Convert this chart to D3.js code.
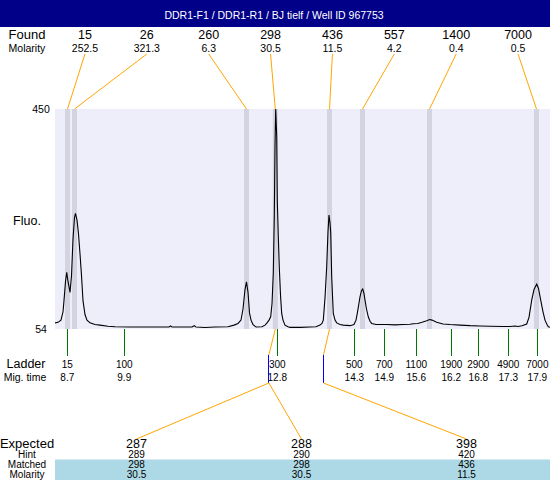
<!DOCTYPE html>
<html>
<head>
<meta charset="utf-8">
<script src="https://cdn.jsdelivr.net/npm/d3@7"></script>
<style>
  html, body { margin: 0; padding: 0; background: #fff; }
  svg { display: block; font-family: "Liberation Sans", Arial, sans-serif; }
</style>
</head>
<body>
<svg id="chart" width="550" height="480"></svg>
<script>
// ---------------- DATA ----------------
const title = "DDR1-F1 / DDR1-R1 / BJ tielf / Well ID 967753";

// Found peaks
const foundSizes    = ["15", "26", "260", "298", "436", "557", "1400", "7000"];
const foundMolarity = ["252.5", "321.3", "6.3", "30.5", "11.5", "4.2", "0.4", "0.5"];
const foundTimes    = [8.710, 8.847, 12.213, 12.777, 13.838, 14.484, 15.796, 17.890];

// Ladder
const ladderSizes  = [15, 100, 300, 500, 700, 1100, 1900, 2900, 4900, 7000];
const ladderTimes  = [8.706, 9.821, 12.816, 14.324, 14.911, 15.537, 16.222, 16.751, 17.338, 17.906];
const migTimeLabels = ["8.7", "9.9", "12.8", "14.3", "14.9", "15.6", "16.2", "16.8", "17.3", "17.9"];

// Expected table
const expected     = [287, 288, 398];
const hint         = [289, 290, 420];
const matched      = [298, 298, 436];
const matchedMol   = ["30.5", "30.5", "11.5"];

// Y axis
const yTicks = [54, 450];

// Electropherogram trace: migration time (s), fluorescence
const traceTime = [
  8.465, 8.524, 8.582, 8.622, 8.641, 8.671, 8.694, 8.719, 8.759, 8.788,
  8.817, 8.847, 8.866, 8.896, 8.925, 8.954, 8.984, 9.013, 9.052, 9.091,
  9.150, 9.248, 9.346, 9.502, 9.639, 9.933, 10.324, 10.696, 10.730, 10.755,
  11.147, 11.192, 11.225, 11.401, 11.597, 11.851, 11.969, 12.047, 12.106, 12.145,
  12.184, 12.213, 12.243, 12.272, 12.302, 12.341, 12.400, 12.517, 12.576, 12.615,
  12.654, 12.687, 12.713, 12.738, 12.758, 12.771, 12.785, 12.805, 12.816, 12.836,
  12.855, 12.879, 12.902, 12.928, 12.967, 13.026, 13.065, 13.261, 13.456, 13.574,
  13.652, 13.691, 13.717, 13.750, 13.783, 13.809, 13.828, 13.848, 13.862, 13.881,
  13.912, 13.946, 13.979, 14.043, 14.108, 14.239, 14.317, 14.357, 14.382, 14.409,
  14.435, 14.464, 14.488, 14.513, 14.533, 14.562, 14.597, 14.631, 14.664, 14.748,
  14.958, 15.120, 15.277, 15.414, 15.478, 15.570, 15.649, 15.741, 15.796, 15.845,
  15.936, 16.060, 16.197, 16.393, 16.589, 16.785, 16.980, 17.235, 17.372, 17.469,
  17.528, 17.606, 17.698, 17.743, 17.796, 17.841, 17.894, 17.929, 17.972, 18.017,
  18.056, 18.095, 18.121, 18.154
];
const traceFluo = [
  65, 66, 70, 85, 105, 140, 156, 140, 120, 150,
  215, 255, 262, 250, 225, 190, 150, 105, 80, 70,
  65, 62, 61, 59, 58, 57.5, 57.5, 57.5, 59.5, 57.5,
  57.5, 60, 57.5, 56.8, 57.5, 58, 61, 64, 70, 90,
  125, 139, 120, 83, 70, 62, 57.5, 58, 61, 65,
  70, 76, 100, 155, 260, 382, 450, 400, 286, 220,
  166, 115, 82, 70, 61, 58, 57, 57, 57.5, 58,
  61, 64, 70, 110, 166, 230, 259, 245, 227, 148,
  82, 70, 65, 62, 61, 60, 62, 70, 82, 97,
  112, 123, 126, 118, 106, 90, 76, 68, 64, 62,
  62, 61.5, 62, 62.5, 63.5, 64, 66, 69, 71, 70,
  66, 63, 62, 61, 60, 59.5, 59, 58.5, 58.5, 59.5,
  58.5, 60, 63, 75, 106, 125, 135, 127, 106, 85,
  70, 62, 58, 57
];

// ---------------- LAYOUT ----------------
const W = 550, H = 480;
const plot = { left: 55, right: 550, top: 109, bottom: 329 };
const slotLeft = 54, slotWidth = 495;

const svg = d3.select("#chart");
const x = d3.scaleLinear().domain([8.465, 18.154]).range([plot.left, plot.right]);
const y = d3.scaleLinear().domain([54, 450]).range([plot.bottom, plot.top]);
// size -> time, through the ladder (piecewise linear)
const sizeToTime = d3.scaleLinear().domain(ladderSizes).range(ladderTimes);

const foundSlot = d3.scaleBand().domain(d3.range(foundSizes.length)).range([slotLeft, slotLeft + slotWidth]);
const expSlot = d3.scaleBand().domain(d3.range(expected.length)).range([slotLeft, slotLeft + slotWidth]);

const ORANGE = "#FFA500", GREEN = "#007800", BLUE = "#0000FF";

// Header
svg.append("rect").attr("x", 0).attr("y", 0).attr("width", W).attr("height", 27).attr("fill", "#000088");
svg.append("text").attr("x", 274).attr("y", 18.5).attr("text-anchor", "middle")
  .attr("fill", "#fff").attr("font-size", 10.5).text(title);

// Left labels
function leftLabel(txt, yy, size, xx) {
  svg.append("text").attr("x", xx || 27).attr("y", yy).attr("text-anchor", "middle")
    .attr("font-size", size).attr("fill", "#000").text(txt);
}
leftLabel("Found", 39, 13);
leftLabel("Molarity", 51.5, 10.5);
leftLabel("Fluo.", 225, 12.5);
leftLabel("Ladder", 368, 12.5, 26);
leftLabel("Mig. time", 381, 10.5, 25);
leftLabel("Expected", 448, 13);
leftLabel("Hint", 458, 10);
leftLabel("Matched", 468, 10);
leftLabel("Molarity", 478, 10);

// Plot background
svg.append("rect").attr("x", plot.left).attr("y", plot.top)
  .attr("width", plot.right - plot.left).attr("height", plot.bottom - plot.top)
  .attr("fill", "#EEEEFB");

// Found bands
svg.append("g").selectAll("rect").data(foundTimes).join("rect")
  .attr("x", d => x(d) - 2.5).attr("y", plot.top).attr("width", 5)
  .attr("height", plot.bottom - plot.top).attr("fill", "#D3D3E1");

// Y labels
svg.append("g").selectAll("text").data(yTicks).join("text")
  .attr("x", 41).attr("y", d => y(d) + 3.8).attr("text-anchor", "middle")
  .attr("font-size", 10.5).text(d => d);

// Trace
svg.append("clipPath").attr("id", "clip").append("rect")
  .attr("x", plot.left).attr("y", plot.top - 1).attr("width", plot.right - plot.left).attr("height", plot.bottom - plot.top + 1);
const line = d3.line().x(d => x(d[0])).y(d => y(d[1]));
svg.append("path").datum(d3.zip(traceTime, traceFluo))
  .attr("clip-path", "url(#clip)")
  .attr("d", line).attr("fill", "none").attr("stroke", "#000").attr("stroke-width", 1.1);

// Found labels and connectors
const fg = svg.append("g");
fg.selectAll("text.fs").data(foundSizes).join("text").attr("class", "fs")
  .attr("x", (d, i) => foundSlot(i) + foundSlot.bandwidth() / 2).attr("y", 39)
  .attr("text-anchor", "middle").attr("font-size", 12.5).text(d => d);
fg.selectAll("text.fm").data(foundMolarity).join("text").attr("class", "fm")
  .attr("x", (d, i) => foundSlot(i) + foundSlot.bandwidth() / 2).attr("y", 51.5)
  .attr("text-anchor", "middle").attr("font-size", 10.5).text(d => d);
fg.selectAll("line").data(foundTimes).join("line")
  .attr("x1", (d, i) => foundSlot(i) + foundSlot.bandwidth() / 2).attr("y1", 54)
  .attr("x2", d => x(d)).attr("y2", plot.top)
  .attr("stroke", ORANGE).attr("stroke-width", 1);

// Ladder ticks
const lg = svg.append("g");
lg.selectAll("line").data(ladderTimes).join("line")
  .attr("x1", d => x(d)).attr("x2", d => x(d)).attr("y1", plot.bottom).attr("y2", 356)
  .attr("stroke", GREEN).attr("stroke-width", 1).attr("shape-rendering", "crispEdges");

// Hint / matched connectors (one hint marker per matched peak)
const hg = svg.append("g");
const hintXByMatch = new Map();
expected.forEach((e, i) => {
  if (!hintXByMatch.has(matched[i])) hintXByMatch.set(matched[i], x(sizeToTime(hint[i])));
});
hintXByMatch.forEach((hx, m) => {
  const mx = x(foundTimes[foundSizes.indexOf(String(m))]);
  hg.append("line").attr("x1", mx).attr("y1", plot.bottom).attr("x2", hx).attr("y2", 355)
    .attr("stroke", ORANGE).attr("stroke-width", 1);
  hg.append("line").attr("x1", hx).attr("y1", 355).attr("x2", hx).attr("y2", 383)
    .attr("stroke", BLUE).attr("stroke-width", 1).attr("shape-rendering", "crispEdges");
});
expected.forEach((e, i) => {
  const hx = hintXByMatch.get(matched[i]);
  const ex = expSlot(i) + expSlot.bandwidth() / 2;
  hg.append("line").attr("x1", hx).attr("y1", 383).attr("x2", ex).attr("y2", 439)
    .attr("stroke", ORANGE).attr("stroke-width", 1);
});

lg.selectAll("text.ls").data(ladderSizes).join("text").attr("class", "ls")
  .attr("x", (d, i) => x(ladderTimes[i])).attr("y", 368)
  .attr("text-anchor", "middle").attr("font-size", 10).text(d => d);
lg.selectAll("text.lt").data(migTimeLabels).join("text").attr("class", "lt")
  .attr("x", (d, i) => x(ladderTimes[i])).attr("y", 381)
  .attr("text-anchor", "middle").attr("font-size", 10).text(d => d);

// Table
svg.append("rect").attr("x", plot.left).attr("y", 459.5).attr("width", W - plot.left)
  .attr("height", H - 459.5).attr("fill", "#ADD8E6");
const tg = svg.append("g");
const rows = [
  { vals: expected, y: 448, size: 12.5 },
  { vals: hint, y: 458, size: 10 },
  { vals: matched, y: 468, size: 10 },
  { vals: matchedMol, y: 478, size: 10 }
];
rows.forEach(r => {
  tg.append("g").selectAll("text").data(r.vals).join("text")
    .attr("x", (d, i) => expSlot(i) + expSlot.bandwidth() / 2).attr("y", r.y)
    .attr("text-anchor", "middle").attr("font-size", r.size).text(d => d);
});
</script>
</body>
</html>
